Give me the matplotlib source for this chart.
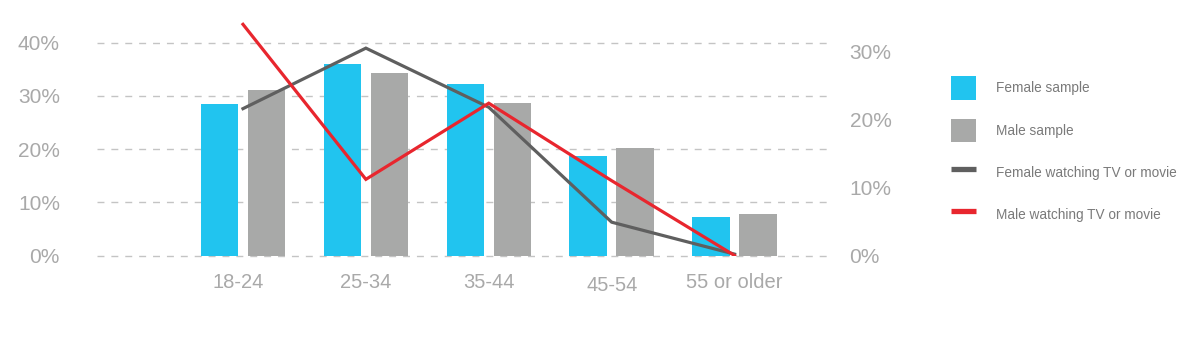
import matplotlib
matplotlib.use("Agg")
import matplotlib.pyplot as plt
import matplotlib.transforms as mtransforms
from matplotlib.patches import Patch
from matplotlib.lines import Line2D
import numpy as np

plt.rcParams['font.family'] = ['Liberation Sans', 'DejaVu Sans']

categories = ["18-24", "25-34", "35-44", "45-54", "55 or older"]
female_sample = [28.5, 36.0, 32.3, 18.6, 7.2]
male_sample = [31.1, 34.2, 28.7, 20.2, 7.8]
female_watching = [21.6, 30.5, 21.8, 4.9, 0.2]
male_watching = [34.0, 11.2, 22.4, 11.0, 0.0]
left_ticks = [0, 10, 20, 30, 40]
right_ticks = [0, 10, 20, 30]

C_FEMALE = "#21c4ef"
C_MALE = "#a8a9a8"
C_FLINE = "#5f5f5f"
C_MLINE = "#e8262e"
C_TEXT = "#a9a9a9"
C_LEG = "#7a7a7a"

fig = plt.figure(figsize=(12, 3.43), dpi=100)
ax = fig.add_axes([0.0806, 0.2551, 0.6094, 0.6985])
ax2 = ax.twinx()

x = np.arange(len(categories))
w = 0.305
off = 0.191
ax.bar(x - off, female_sample, w, color=C_FEMALE, zorder=2)
ax.bar(x + off, male_sample, w, color=C_MALE, zorder=2)

ax.set_xlim(-1.19, 4.76)
ax.set_ylim(0, 45)
ax.set_yticks(left_ticks)
ax.set_yticklabels([f"{t}%" for t in left_ticks])
ax.set_xticks(x)
ax.set_xticklabels(categories)
for t in left_ticks:
    ax.axhline(t, color="#c4c4c4", lw=1, ls=(0, (5, 5)), zorder=1, clip_on=False)

ax2.plot(x, female_watching, color=C_FLINE, lw=2.3, zorder=3, solid_joinstyle='miter')
ax2.plot(x, male_watching, color=C_MLINE, lw=2.3, zorder=3, solid_joinstyle='miter')
ax2.set_ylim(0, 45 * 5.325 / 6.8)
ax2.set_yticks(right_ticks)
ax2.set_yticklabels([f"{t}%" for t in right_ticks])

for a in (ax, ax2):
    for s in a.spines.values():
        s.set_visible(False)
    a.tick_params(length=0, colors=C_TEXT)
ax.tick_params(axis='y', labelsize=15, pad=26.5)
ax2.tick_params(axis='y', labelsize=15, pad=15.5)
ax.tick_params(axis='x', labelsize=14.5, pad=12.7)

labs = ax.get_xticklabels()
labs[0].set_transform(labs[0].get_transform() + mtransforms.ScaledTranslation(-5/100, 0, fig.dpi_scale_trans))
labs[3].set_transform(labs[3].get_transform() + mtransforms.ScaledTranslation(0, -2.5/100, fig.dpi_scale_trans))

handles = [
    Patch(facecolor=C_FEMALE, edgecolor='none'),
    Patch(facecolor=C_MALE, edgecolor='none'),
    Line2D([0], [0], color=C_FLINE, lw=3.8, solid_capstyle='butt'),
    Line2D([0], [0], color=C_MLINE, lw=3.8, solid_capstyle='butt'),
]
labels = ["Female sample", "Male sample", "Female watching TV or movie", "Male watching TV or movie"]
leg = fig.legend(handles, labels, loc='upper left', bbox_to_anchor=(0.7925, 0.777),
                 frameon=False, fontsize=9.8, handlelength=1.84, handleheight=2.25,
                 labelspacing=1.40, handletextpad=1.47, borderaxespad=0, borderpad=0)
for t in leg.get_texts():
    t.set_color(C_LEG)

fig.savefig("out.png", dpi=100)
